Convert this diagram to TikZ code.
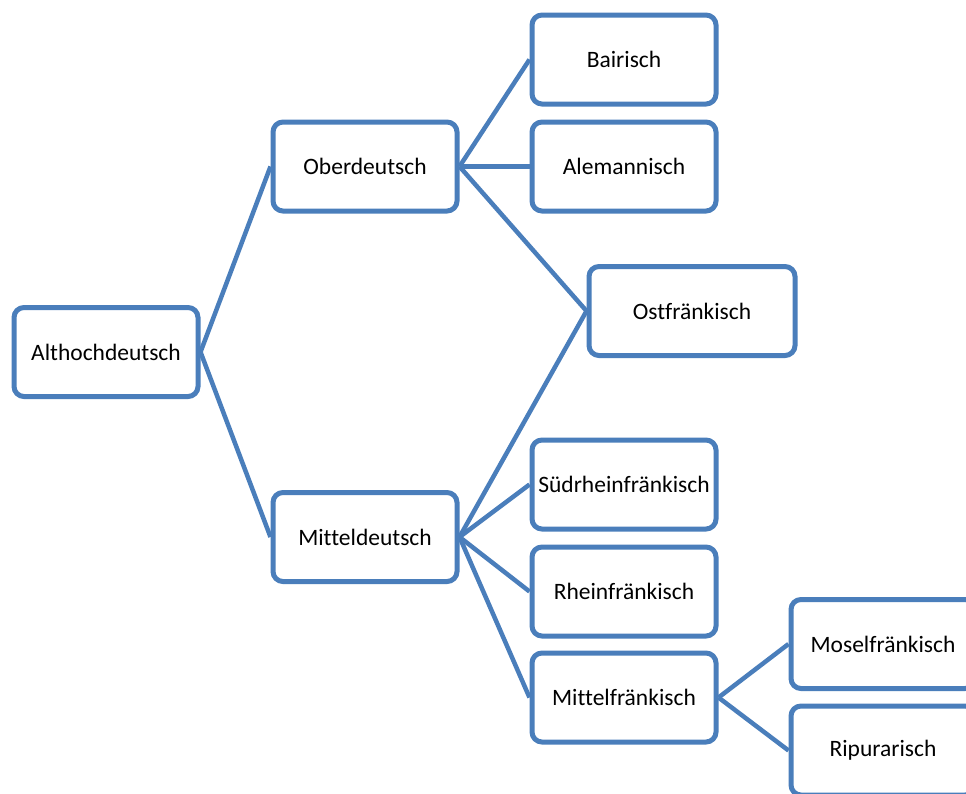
\documentclass[tikz,border=0pt]{standalone}
\usepackage{fontspec}
\setmainfont{Carlito}[Ligatures=NoCommon]
\definecolor{boxblue}{RGB}{74,126,187}
\begin{document}
\begin{tikzpicture}[x=1pt,y=-1pt,
  box/.style={draw=boxblue,line width=5pt,fill=white,rounded corners=10pt,
    minimum width=184pt,minimum height=89pt,inner sep=0pt,font=\fontsize{23.5}{28}\selectfont,text=black},
  conn/.style={draw=boxblue,line width=4.5pt}]
\useasboundingbox (0,0) rectangle (966,793);
\clip (0,0) rectangle (966,793);
\node[box] (alt) at (106,352) {Althochdeutsch};
\node[box] (ober) at (365,166.5) {Oberdeutsch};
\node[box] (mittel) at (365,537) {Mitteldeutsch};
\node[box] (bair) at (624,59.5) {Bairisch};
\node[box] (alem) at (624,166.5) {Alemannisch};
\node[box, minimum width=206pt] (ost) at (692,311) {Ostfränkisch};
\node[box] (sued) at (624,484.5) {Südrheinfränkisch};
\node[box] (rhein) at (624,591.5) {Rheinfränkisch};
\node[box] (mfr) at (624,697.5) {Mittelfränkisch};
\node[box] (mosel) at (883,644) {Moselfränkisch};
\node[box] (rip) at (883,750.5) {Ripurarisch};
\draw[conn] (alt.east) -- (ober.west);
\draw[conn] (alt.east) -- (mittel.west);
\draw[conn] (ober.east) -- (bair.west);
\draw[conn] (ober.east) -- (alem.west);
\draw[conn] (ober.east) -- (ost.west);
\draw[conn] (mittel.east) -- (ost.west);
\draw[conn] (mittel.east) -- (sued.west);
\draw[conn] (mittel.east) -- (rhein.west);
\draw[conn] (mittel.east) -- (mfr.west);
\draw[conn] (mfr.east) -- (mosel.west);
\draw[conn] (mfr.east) -- (rip.west);
\end{tikzpicture}
\end{document}
